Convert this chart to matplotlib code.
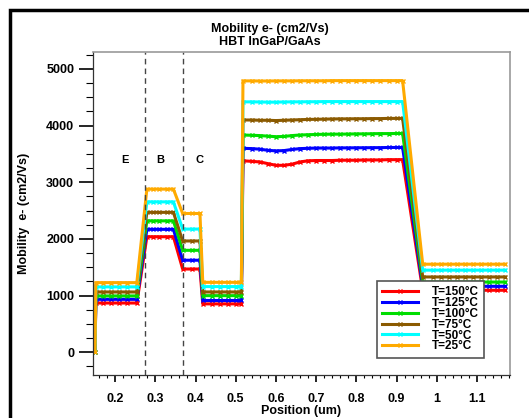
import matplotlib.pyplot as plt
from matplotlib.patches import Rectangle
from matplotlib.ticker import MultipleLocator

plt.rcParams["font.family"] = ["Liberation Sans", "DejaVu Sans"]
plt.rcParams["font.weight"] = "bold"

# ===== DATA =====
position = [0.150, 0.152, 0.17, 0.19, 0.21, 0.23, 0.254, 0.279, 0.295, 0.31, 0.33, 0.345,
            0.368, 0.39, 0.411, 0.418, 0.44, 0.46, 0.48, 0.50, 0.514, 0.518, 0.54, 0.56,
            0.58, 0.60, 0.62, 0.64, 0.66, 0.68, 0.70, 0.72, 0.74, 0.76, 0.78, 0.80, 0.82,
            0.84, 0.86, 0.88, 0.90, 0.915, 0.965, 0.99, 1.01, 1.03, 1.05, 1.07, 1.09, 1.11,
            1.13, 1.15, 1.17]

mob_150 = [0, 870, 870, 870, 870, 870, 870, 2040, 2040, 2040, 2040, 2040,
           1470, 1470, 1470, 855, 855, 855, 855, 855, 855, 3380, 3370, 3360,
           3330, 3300, 3300, 3320, 3360, 3380, 3385, 3385, 3385, 3390, 3390, 3390, 3395,
           3395, 3395, 3400, 3400, 3400, 1095, 1095, 1095, 1095, 1095, 1095, 1095, 1095,
           1095, 1095, 1095]
mob_125 = [0, 935, 935, 935, 935, 935, 935, 2170, 2170, 2170, 2170, 2170,
           1625, 1625, 1625, 915, 915, 915, 915, 915, 915, 3600, 3595, 3585,
           3565, 3555, 3560, 3580, 3595, 3600, 3605, 3605, 3605, 3608, 3608, 3610, 3610,
           3612, 3612, 3615, 3615, 3615, 1165, 1165, 1165, 1165, 1165, 1165, 1165, 1165,
           1165, 1165, 1165]
mob_100 = [0, 995, 995, 995, 995, 995, 995, 2320, 2320, 2320, 2320, 2320,
           1800, 1800, 1800, 1000, 1000, 1000, 1000, 1000, 1000, 3835, 3830, 3825,
           3815, 3805, 3810, 3825, 3835, 3840, 3845, 3848, 3850, 3850, 3852, 3855, 3855,
           3858, 3860, 3860, 3862, 3862, 1240, 1240, 1240, 1240, 1240, 1240, 1240, 1240,
           1240, 1240, 1240]
mob_75 = [0, 1065, 1065, 1065, 1065, 1065, 1065, 2470, 2470, 2470, 2470, 2470,
          1965, 1965, 1965, 1065, 1065, 1065, 1065, 1065, 1065, 4100, 4100, 4095,
          4095, 4090, 4095, 4100, 4105, 4110, 4112, 4115, 4118, 4120, 4120, 4122, 4122,
          4125, 4125, 4128, 4128, 4128, 1330, 1330, 1330, 1330, 1330, 1330, 1330, 1330,
          1330, 1330, 1330]
mob_50 = [0, 1155, 1155, 1155, 1155, 1155, 1155, 2655, 2655, 2655, 2655, 2655,
          2175, 2175, 2175, 1160, 1160, 1160, 1160, 1160, 1160, 4420, 4420, 4418,
          4415, 4415, 4418, 4420, 4420, 4422, 4422, 4425, 4425, 4425, 4425, 4425, 4425,
          4425, 4425, 4425, 4425, 4425, 1450, 1450, 1450, 1450, 1450, 1450, 1450, 1450,
          1450, 1450, 1450]
mob_25 = [0, 1230, 1230, 1230, 1230, 1230, 1230, 2880, 2880, 2880, 2880, 2880,
          2450, 2450, 2450, 1235, 1235, 1235, 1235, 1235, 1235, 4790, 4790, 4788,
          4788, 4790, 4790, 4790, 4792, 4792, 4792, 4792, 4795, 4795, 4795, 4795, 4795,
          4795, 4795, 4795, 4795, 4795, 1555, 1555, 1555, 1555, 1555, 1555, 1555, 1555,
          1555, 1555, 1555]

series = [
    ("T=150°C", mob_150, "#ff0000"),
    ("T=125°C", mob_125, "#0000ff"),
    ("T=100°C", mob_100, "#00dd00"),
    ("T=75°C", mob_75, "#8b5a00"),
    ("T=50°C", mob_50, "#00ffff"),
    ("T=25°C", mob_25, "#ffaa00"),
]

region_bounds = [0.2746, 0.369]
region_labels = ["E", "B", "C"]
region_label_x = [0.225, 0.312, 0.411]

fig = plt.figure(figsize=(5.29, 4.18), dpi=100)
ax = fig.add_axes([0.1758, 0.1029, 0.7882, 0.7727])

for label, vals, color in series:
    ax.plot(position, vals, color=color, lw=2.2, marker="x", ms=3.5, mew=1.0, label=label)

for xb in region_bounds:
    ax.axvline(xb, color="#444444", ls=(0, (4, 3)), lw=1.0)
for lab, xl in zip(region_labels, region_label_x):
    ax.text(xl, 3390, lab, ha="center", va="center", fontsize=8, fontweight="bold")

ax.set_xlim(0.145, 1.182)
ax.set_ylim(-400, 5300)
ax.xaxis.set_minor_locator(MultipleLocator(0.02))
ax.yaxis.set_major_locator(MultipleLocator(1000))
ax.yaxis.set_minor_locator(MultipleLocator(250))
ax.set_xticks([0.2, 0.3, 0.4, 0.5, 0.6, 0.7, 0.8, 0.9, 1.0, 1.1])
ax.set_xticklabels(["0.2", "0.3", "0.4", "0.5", "0.6", "0.7", "0.8", "0.9", "1", "1.1"])

ax.tick_params(axis="y", which="major", direction="out", length=10, width=1.2, pad=3.5, labelsize=9)
ax.tick_params(axis="y", which="minor", direction="out", length=5, width=0.8)
ax.tick_params(axis="x", which="major", direction="out", length=5, width=1.2, pad=8, labelsize=9)
ax.tick_params(axis="x", which="minor", direction="out", length=2.5, width=0.8)

for side in ["top", "right"]:
    ax.spines[side].set_color("#999999")
    ax.spines[side].set_linewidth(1.2)
for side in ["left", "bottom"]:
    ax.spines[side].set_color("#333333")
    ax.spines[side].set_linewidth(0.9)

ax.set_xlabel("Position (um)", fontsize=9, fontweight="bold", labelpad=0)
ax.set_ylabel("Mobility  e- (cm2/Vs)", fontsize=9, fontweight="bold")
ax.yaxis.set_label_coords(-0.152, 0.5)

fig.text(270 / 529, 1 - 29 / 418, "Mobility e- (cm2/Vs)", ha="center", va="center",
         fontsize=9, fontweight="bold")
fig.text(270 / 529, 1 - 42 / 418, "HBT InGaP/GaAs", ha="center", va="center",
         fontsize=9, fontweight="bold")

leg = ax.legend(loc="upper left", bbox_to_anchor=(0.681, 0.291), borderaxespad=0,
                prop={"size": 8.5, "weight": "bold"}, labelspacing=-0.1, handlelength=3.0,
                handletextpad=1.2, borderpad=0.45, fancybox=False, framealpha=1,
                edgecolor="#555555")
leg.get_frame().set_linewidth(1.2)

fig.patches.append(Rectangle((10 / 529, -0.1), 1.2, 1.1 - 10 / 418, fill=False,
                             lw=2.5, edgecolor="black", transform=fig.transFigure))

fig.savefig("out.png", dpi=100)
